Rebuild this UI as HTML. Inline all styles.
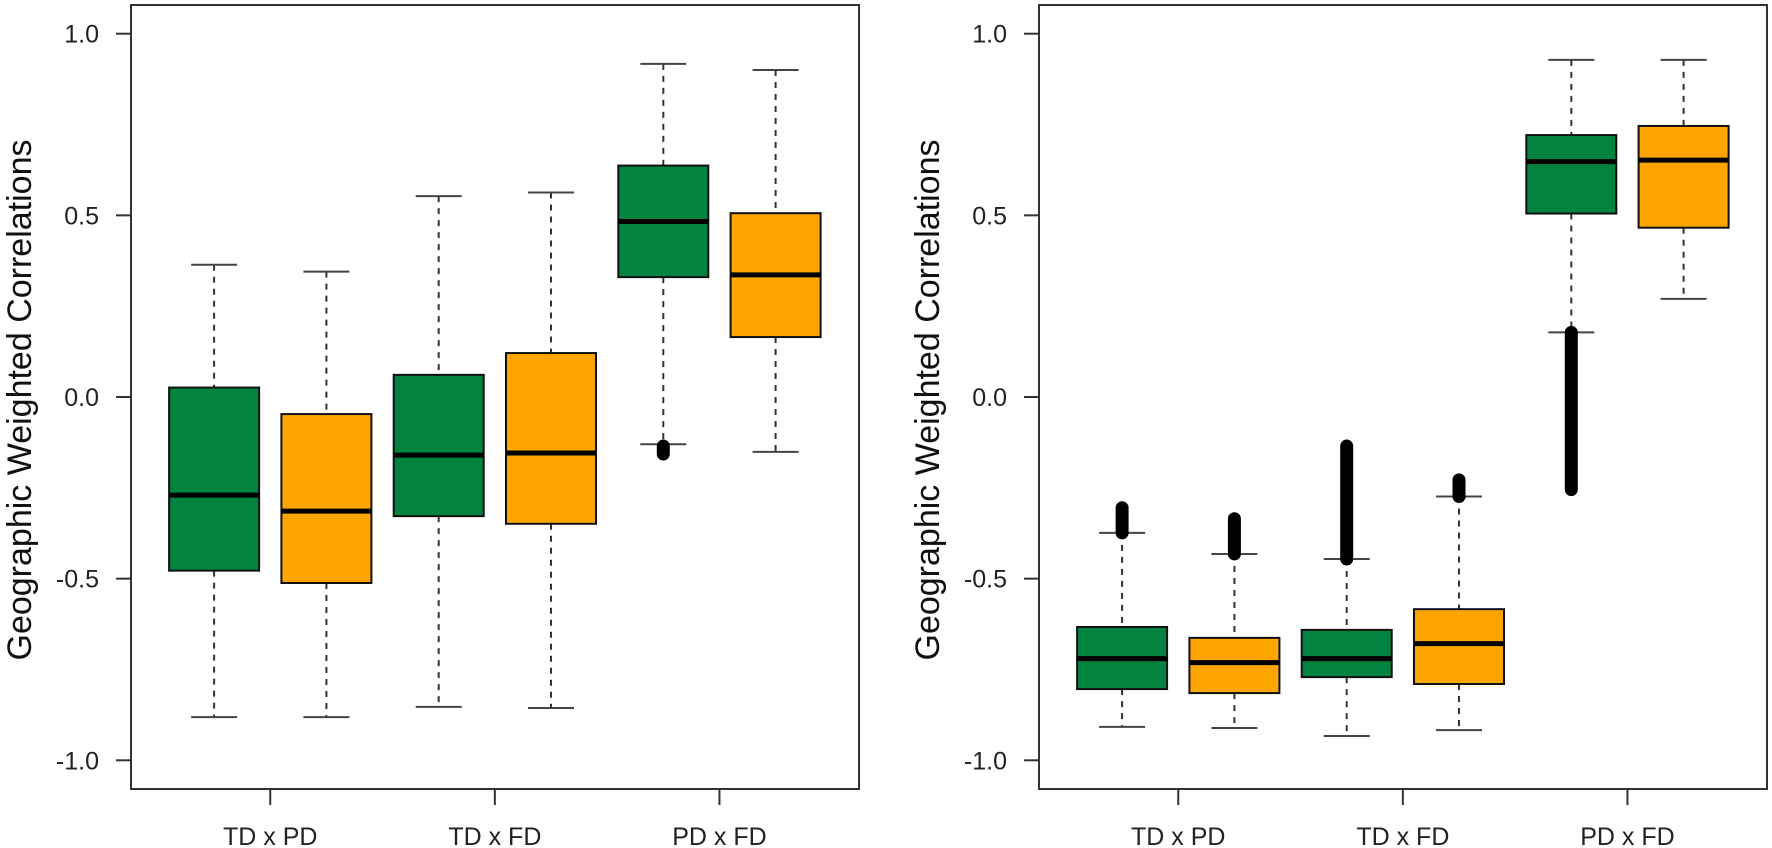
<!DOCTYPE html>
<html><head><meta charset="utf-8"><style>
html,body{margin:0;padding:0;background:#fff;}
svg{display:block;font-family:"Liberation Sans",Arial,sans-serif;}
</style></head><body>
<svg id="chart" width="1772" height="848" viewBox="0 0 1772 848" xmlns="http://www.w3.org/2000/svg"></svg>
<script>
const categories = ["TD x PD", "TD x FD", "PD x FD"];
const yTicks = [1.0, 0.5, 0.0, -0.5, -1.0];
const yTickLabels = ["1.0", "0.5", "0.0", "-0.5", "-1.0"];
const seriesColors = ["#02833f", "#ffa500"];
// [low, q1, median, q3, high] per box, order: TDxPD green, orange, TDxFD green, orange, PDxFD green, orange
const leftStats = [
  [-0.881, -0.478, -0.270, 0.026, 0.364],
  [-0.881, -0.512, -0.314, -0.047, 0.345],
  [-0.853, -0.328, -0.160, 0.061, 0.553],
  [-0.856, -0.349, -0.154, 0.121, 0.563],
  [-0.130, 0.330, 0.483, 0.637, 0.917],
  [-0.151, 0.165, 0.336, 0.506, 0.900]
];
const leftOutliers = [null, null, null, null, [-0.157, -0.135], null];
const rightStats = [
  [-0.908, -0.804, -0.720, -0.633, -0.374],
  [-0.911, -0.815, -0.731, -0.663, -0.432],
  [-0.933, -0.771, -0.720, -0.641, -0.446],
  [-0.917, -0.790, -0.679, -0.584, -0.274],
  [0.178, 0.505, 0.648, 0.721, 0.928],
  [0.270, 0.466, 0.652, 0.746, 0.928]
];
const rightOutliers = [[-0.374, -0.305], [-0.432, -0.335], [-0.446, -0.135], [-0.274, -0.228], [-0.255, 0.178], null];

const NS = "http://www.w3.org/2000/svg";
const svg = document.getElementById("chart");
function mk(tag, attrs, parent) {
  const e = document.createElementNS(NS, tag);
  for (const k in attrs) e.setAttribute(k, attrs[k]);
  (parent || svg).appendChild(e);
  return e;
}
function yScale(v) { return 397 - v * 363.3; }

function panel(left, stats, outliers, pname) {
  const g = mk("g", {});
  
  
  const W = 728, top = 5, bottom = 789;
  const xScale = p => left + (p - 0.26) * 112.3;
  // y axis
  yTicks.forEach((t, i) => {
    const y = yScale(t);
    const tk = mk("line", {x1: left - 15, x2: left, y1: y, y2: y, stroke: "#333", "stroke-width": 2}, g);
    
    
    const tx = mk("text", {x: left - 32, y: y + 9, "text-anchor": "end", "font-size": 25, fill: "#222"}, g);
    tx.textContent = yTickLabels[i];
    
    
  });
  const title = mk("text", {x: 0, y: 0, transform: `translate(${left - 100},400) rotate(-90)`, "text-anchor": "middle", "font-size": 34, fill: "#111"}, g);
  title.textContent = "Geographic Weighted Correlations";
  
  
  // x axis
  categories.forEach((c, i) => {
    const x = xScale(1.5 + 2 * i);
    const tk = mk("line", {x1: x, x2: x, y1: bottom, y2: bottom + 16, stroke: "#333", "stroke-width": 2}, g);
    
    
    const tx = mk("text", {x: x, y: 845, "text-anchor": "middle", "font-size": 25, fill: "#222"}, g);
    tx.textContent = c;
    
    
  });
  // boxes
  stats.forEach((s, i) => {
    const cx = xScale(i + 1);
    const col = seriesColors[i % 2];
    const bg = mk("g", {}, g);
    
    
    const wAttrs = {stroke: "#333", "stroke-width": 2, "stroke-dasharray": "6,6"};
    mk("line", Object.assign({x1: cx, x2: cx, y1: yScale(s[4]), y2: yScale(s[3])}, wAttrs), bg);
    mk("line", Object.assign({x1: cx, x2: cx, y1: yScale(s[1]), y2: yScale(s[0])}, wAttrs), bg);
    mk("line", {x1: cx - 23, x2: cx + 23, y1: yScale(s[4]), y2: yScale(s[4]), stroke: "#444", "stroke-width": 2}, bg);
    mk("line", {x1: cx - 23, x2: cx + 23, y1: yScale(s[0]), y2: yScale(s[0]), stroke: "#444", "stroke-width": 2}, bg);
    mk("rect", {x: cx - 45, y: yScale(s[3]), width: 90, height: yScale(s[1]) - yScale(s[3]), fill: col, stroke: "#111", "stroke-width": 2}, bg);
    mk("line", {x1: cx - 45, x2: cx + 45, y1: yScale(s[2]), y2: yScale(s[2]), stroke: "#000", "stroke-width": 5}, bg);
    const o = outliers[i];
    if (o) {
      const ol = mk("line", {x1: cx, x2: cx, y1: yScale(o[0]), y2: yScale(o[1]), stroke: "#000", "stroke-width": 13, "stroke-linecap": "round"}, bg);
      
      
    }
  });
  const fr = mk("rect", {x: left, y: top, width: W, height: bottom - top, fill: "none", stroke: "#333", "stroke-width": 2}, g);
  
  
}
panel(131, leftStats, leftOutliers, "left-panel");
panel(1039, rightStats, rightOutliers, "right-panel");
</script>
</body></html>
